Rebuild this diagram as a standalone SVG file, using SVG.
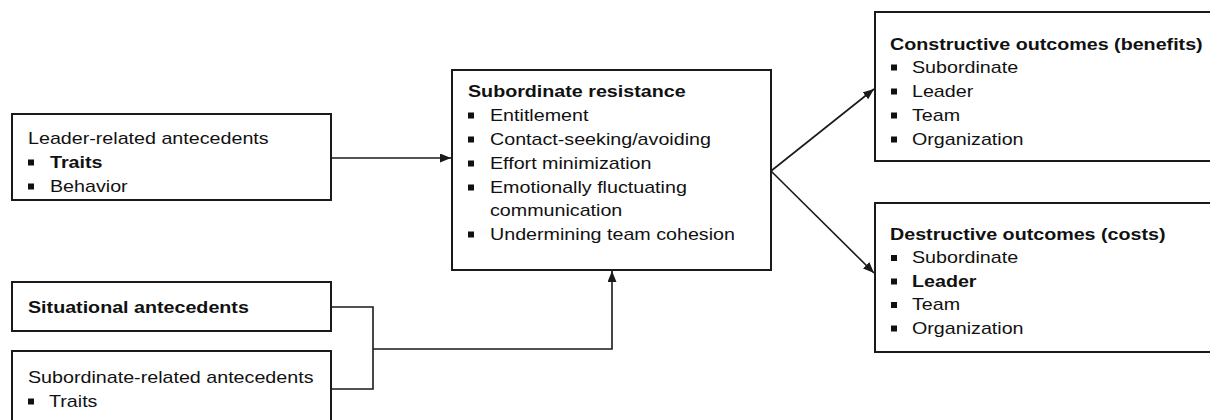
<svg xmlns="http://www.w3.org/2000/svg" width="1210" height="420" viewBox="0 0 1210 420">
<style>
.box{fill:#fff;stroke:#1a1a1a;stroke-width:2}
.t{font-family:"Liberation Sans",Arial,sans-serif;font-size:16.4px;fill:#111}
.b{font-weight:bold}
.bul{fill:#111}
.con{fill:none;stroke:#1a1a1a;stroke-width:1.6}
</style>
<defs>
<marker id="ah" markerUnits="userSpaceOnUse" markerWidth="12" markerHeight="10" refX="11" refY="4.5" orient="auto">
<path d="M0,0 L11,4.5 L0,9 z" fill="#1a1a1a"/>
</marker>
<rect id="bl" width="6" height="6" class="bul"/>
</defs>
<rect width="1210" height="420" fill="#fff"/>

<g id="connectors">
<line class="con" x1="331" y1="158" x2="451" y2="158" marker-end="url(#ah)"/>
<polyline class="con" points="331,307 373,307 373,389 331,389"/>
<polyline class="con" points="373,349 612,349 612,271" marker-end="url(#ah)"/>
<line class="con" x1="771" y1="171" x2="874" y2="89" marker-end="url(#ah)"/>
<line class="con" x1="771" y1="171" x2="874" y2="273" marker-end="url(#ah)"/>
</g>

<g id="leader">
<rect class="box" x="12" y="114" width="319" height="86"/>
<use href="#bl" x="28" y="159.5"/>
<use href="#bl" x="28" y="183.5"/>
<g transform="scale(1.2,1)">
<text class="t" x="23.33" y="144">Leader-related antecedents</text>
<text class="t b" x="41.67" y="168">Traits</text>
<text class="t" x="41.67" y="192">Behavior</text>
</g>
</g>

<g id="situational">
<rect class="box" x="12" y="282" width="319" height="49"/>
<g transform="scale(1.2,1)">
<text class="t b" x="23.33" y="313">Situational antecedents</text>
</g>
</g>

<g id="subordinate">
<rect class="box" x="12" y="351" width="319" height="90"/>
<use href="#bl" x="28" y="398.5"/>
<g transform="scale(1.2,1)">
<text class="t" x="23.33" y="383">Subordinate-related antecedents</text>
<text class="t" x="40.83" y="407">Traits</text>
</g>
</g>

<g id="resistance">
<rect class="box" x="452" y="70" width="319" height="200"/>
<use href="#bl" x="468" y="112.5"/>
<use href="#bl" x="468" y="136.5"/>
<use href="#bl" x="468" y="160.5"/>
<use href="#bl" x="468" y="184.5"/>
<use href="#bl" x="468" y="231.5"/>
<g transform="scale(1.2,1)">
<text class="t b" x="390" y="97">Subordinate resistance</text>
<text class="t" x="408.33" y="121">Entitlement</text>
<text class="t" x="408.33" y="145">Contact-seeking/avoiding</text>
<text class="t" x="408.33" y="169">Effort minimization</text>
<text class="t" x="408.33" y="193">Emotionally fluctuating</text>
<text class="t" x="408.33" y="216">communication</text>
<text class="t" x="408.33" y="240">Undermining team cohesion</text>
</g>
</g>

<g id="constructive">
<rect class="box" x="875" y="12" width="400" height="149"/>
<use href="#bl" x="891" y="64.5"/>
<use href="#bl" x="891" y="88.5"/>
<use href="#bl" x="891" y="112.5"/>
<use href="#bl" x="891" y="136.5"/>
<g transform="scale(1.2,1)">
<text class="t b" x="741.67" y="50">Constructive outcomes (benefits)</text>
<text class="t" x="760" y="73">Subordinate</text>
<text class="t" x="760" y="97">Leader</text>
<text class="t" x="760" y="121">Team</text>
<text class="t" x="760" y="145">Organization</text>
</g>
</g>

<g id="destructive">
<rect class="box" x="875" y="203" width="400" height="149"/>
<use href="#bl" x="891" y="255"/>
<use href="#bl" x="891" y="278.5"/>
<use href="#bl" x="891" y="302"/>
<use href="#bl" x="891" y="325.5"/>
<g transform="scale(1.2,1)">
<text class="t b" x="741.67" y="240">Destructive outcomes (costs)</text>
<text class="t" x="760" y="263.5">Subordinate</text>
<text class="t b" x="760" y="287">Leader</text>
<text class="t" x="760" y="310.5">Team</text>
<text class="t" x="760" y="334">Organization</text>
</g>
</g>
</svg>
